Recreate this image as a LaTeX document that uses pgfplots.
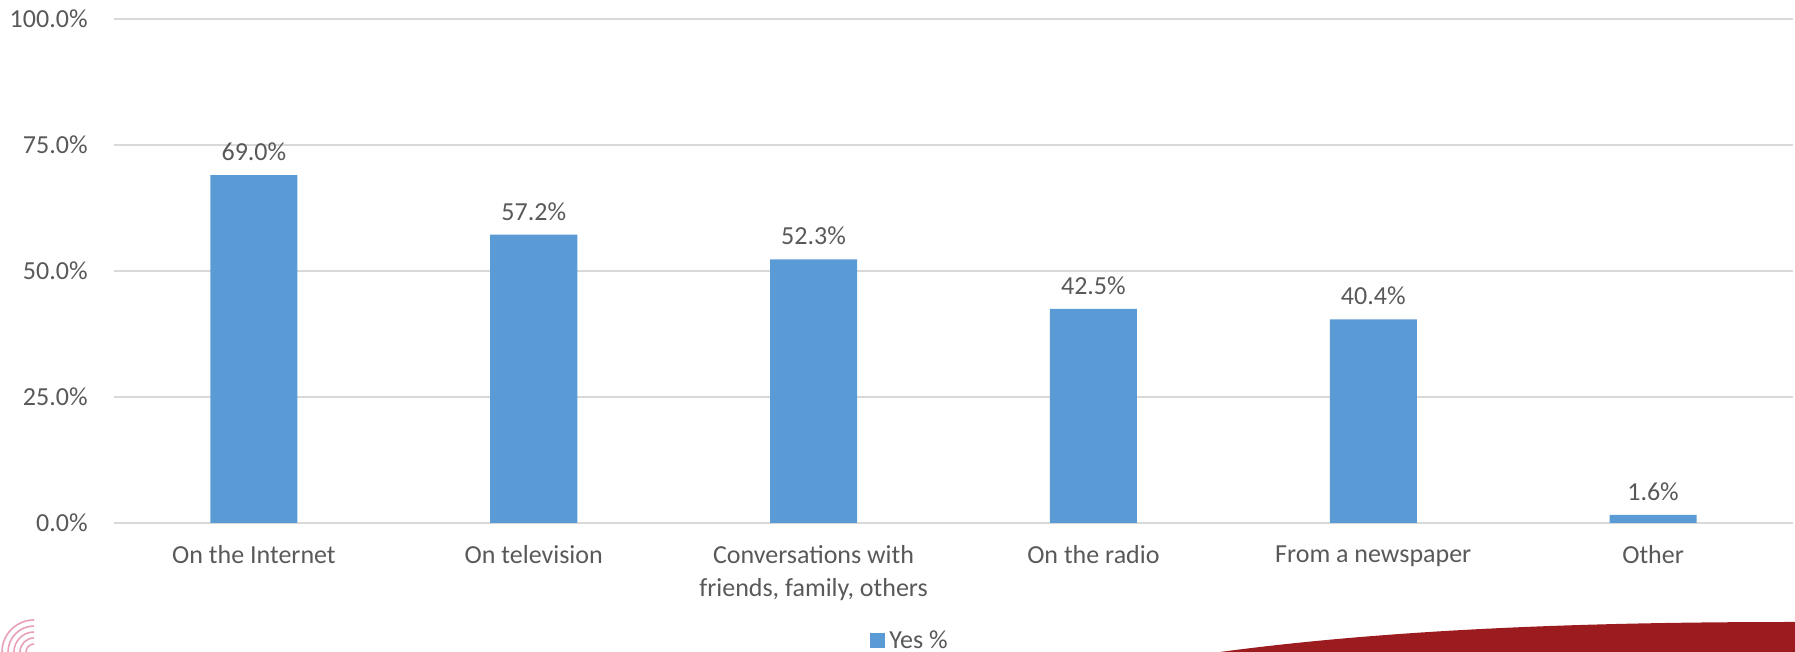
\documentclass[border=0pt]{standalone}
\usepackage{pgfplots}
\pgfplotsset{compat=1.18}
\usepackage{fontspec}
\setmainfont{Carlito}
\definecolor{barblue}{HTML}{5B9BD5}
\definecolor{txtgray}{HTML}{595959}
\definecolor{gridgray}{HTML}{D9D9D9}
\definecolor{swoosh}{HTML}{9B1B1F}
\definecolor{logopink}{HTML}{E8A0B8}
\begin{document}
\begin{tikzpicture}
\path[use as bounding box] (0,0) rectangle (897.5pt,326pt);
% decorative swoosh bottom right
\fill[swoosh] (610pt,0pt) .. controls (700pt,12pt) and (800pt,15pt) .. (897.5pt,15pt) -- (897.5pt,0pt) -- cycle;
% decorative logo arcs bottom left
\foreach \r in {4,7,10,13,16}{
  \draw[logopink, line width=0.8pt] (17pt,0pt) ++(180:\r pt) arc (180:90:\r pt);
}
\begin{axis}[
  at={(57pt,64.5pt)}, anchor=south west,
  scale only axis, width=839.5pt, height=252pt,
  ybar, bar width=43.5pt,
  xmin=-0.5, xmax=5.5, ymin=0, ymax=100,
  xtick=data,
  xticklabels={On the Internet,On television,{Conversations with\\friends, family, others},On the radio,From a newspaper,Other},
  ytick={0,25,50,75,100},
  yticklabel={\pgfmathprintnumber[fixed,fixed zerofill,precision=1]{\tick}\%},
  /pgf/number format/assume math mode=true,
  axis line style={draw=none},
  major tick length=0pt,
  ymajorgrids, grid style={gridgray, line width=0.9pt},
  tick label style={font=\fontsize{13}{16.5}\selectfont, text=txtgray},
  yticklabel style={anchor=east, inner sep=0pt, xshift=-13pt},
  xticklabel style={align=center, anchor=north, inner sep=0pt, yshift=-11pt},
  nodes near coords={\pgfmathprintnumber[fixed,fixed zerofill,precision=1]{\pgfplotspointmeta}\%},
  every node near coord/.append style={font=\fontsize{13}{16}\selectfont, text=txtgray, anchor=south, inner sep=0pt, yshift=7pt},
  legend style={at={(0.4747,-0.234)}, anchor=center, draw=none, font=\fontsize{13}{16}\selectfont, text=txtgray, inner sep=0pt},
  legend image code/.code={\fill[barblue] (0pt,-3.75pt) rectangle (7.5pt,3.75pt);},
]
\addplot[fill=barblue, draw=none] coordinates {(0,69.0) (1,57.2) (2,52.3) (3,42.5) (4,40.4) (5,1.6)};
\addlegendentry{Yes \%}
\end{axis}
\end{tikzpicture}
\end{document}
